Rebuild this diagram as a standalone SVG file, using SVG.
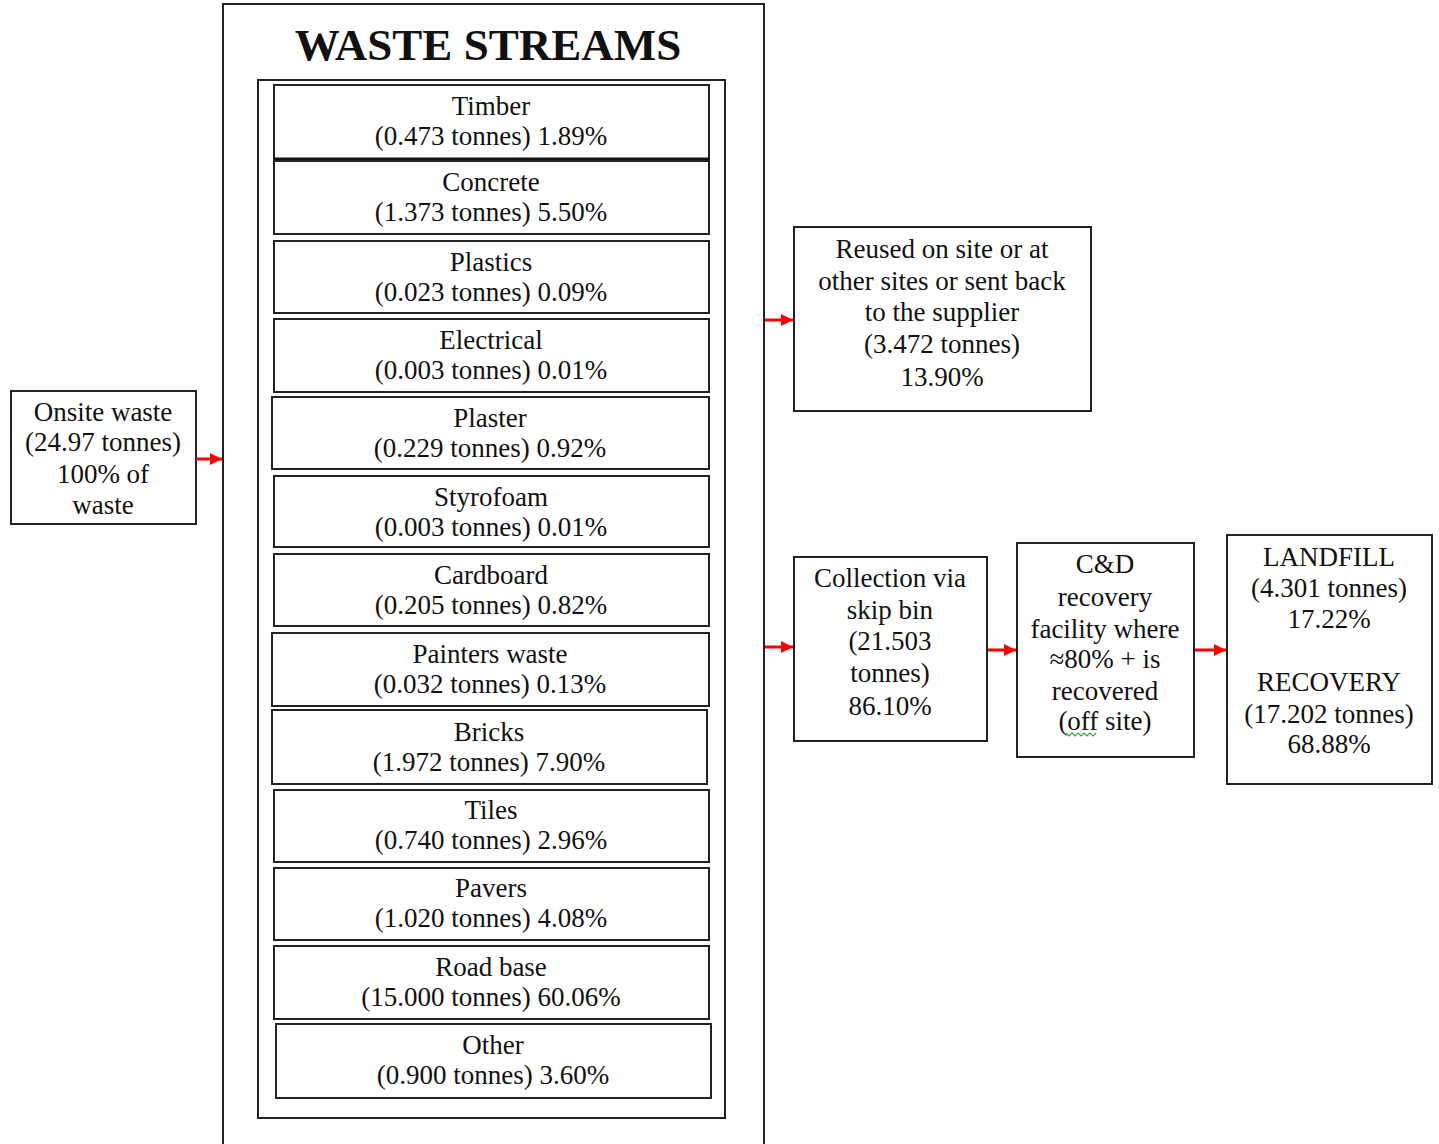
<svg xmlns="http://www.w3.org/2000/svg" width="1439" height="1144" viewBox="0 0 1439 1144">
<defs>
<style>
.box{fill:#fff;stroke:#222;stroke-width:2}
.t{font-family:"Liberation Serif","Times New Roman",serif;font-size:27px;fill:#111;text-anchor:middle}
.title{font-family:"Liberation Serif","Times New Roman",serif;font-size:45px;font-weight:bold;fill:#111;text-anchor:middle}
.arr{stroke:#f00;stroke-width:3;fill:none}
</style>
<marker id="ah" markerUnits="userSpaceOnUse" markerWidth="12" markerHeight="12" refX="12" refY="6" orient="auto">
<path d="M0,0 L12,6 L0,12 z" fill="#f00"/>
</marker>
</defs>
<rect width="1439" height="1144" fill="#fff"/>

<g id="waste-streams">
<rect class="box" x="223" y="4" width="541" height="1150"/>
<text class="title" x="488" y="60">WASTE STREAMS</text>
<rect class="box" x="258" y="80" width="467" height="1038"/>
</g>

<g id="timber"><rect class="box" x="274" y="85" width="435" height="74"/><line x1="274" y1="159" x2="709" y2="159" stroke="#111" stroke-width="3"/><text class="t" x="491" y="115">Timber</text><text class="t" x="491" y="145">(0.473 tonnes) 1.89%</text></g>
<g id="concrete"><rect class="box" x="274" y="161" width="435" height="73"/><text class="t" x="491" y="191">Concrete</text><text class="t" x="491" y="221">(1.373 tonnes) 5.50%</text></g>
<g id="plastics"><rect class="box" x="274" y="241" width="435" height="72"/><text class="t" x="491" y="271">Plastics</text><text class="t" x="491" y="301">(0.023 tonnes) 0.09%</text></g>
<g id="electrical"><rect class="box" x="274" y="319" width="435" height="73"/><text class="t" x="491" y="349">Electrical</text><text class="t" x="491" y="379">(0.003 tonnes) 0.01%</text></g>
<g id="plaster"><rect class="box" x="272" y="397" width="437" height="72"/><text class="t" x="490" y="427">Plaster</text><text class="t" x="490" y="457">(0.229 tonnes) 0.92%</text></g>
<g id="styrofoam"><rect class="box" x="274" y="476" width="435" height="71"/><text class="t" x="491" y="506">Styrofoam</text><text class="t" x="491" y="536">(0.003 tonnes) 0.01%</text></g>
<g id="cardboard"><rect class="box" x="274" y="554" width="435" height="72"/><text class="t" x="491" y="584">Cardboard</text><text class="t" x="491" y="614">(0.205 tonnes) 0.82%</text></g>
<g id="painters"><rect class="box" x="272" y="633" width="437" height="73"/><text class="t" x="490" y="663">Painters waste</text><text class="t" x="490" y="693">(0.032 tonnes) 0.13%</text></g>
<g id="bricks"><rect class="box" x="272" y="710" width="435" height="74"/><text class="t" x="489" y="741">Bricks</text><text class="t" x="489" y="771">(1.972 tonnes) 7.90%</text></g>
<g id="tiles"><rect class="box" x="274" y="790" width="435" height="72"/><text class="t" x="491" y="819">Tiles</text><text class="t" x="491" y="849">(0.740 tonnes) 2.96%</text></g>
<g id="pavers"><rect class="box" x="274" y="868" width="435" height="72"/><text class="t" x="491" y="897">Pavers</text><text class="t" x="491" y="927">(1.020 tonnes) 4.08%</text></g>
<g id="roadbase"><rect class="box" x="274" y="946" width="435" height="73"/><text class="t" x="491" y="976">Road base</text><text class="t" x="491" y="1006">(15.000 tonnes) 60.06%</text></g>
<g id="other"><rect class="box" x="276" y="1024" width="435" height="74"/><text class="t" x="493" y="1054">Other</text><text class="t" x="493" y="1084">(0.900 tonnes) 3.60%</text></g>

<g id="onsite"><rect class="box" x="11" y="391" width="185" height="133"/>
<text class="t" x="103" y="421">Onsite waste</text><text class="t" x="103" y="451">(24.97 tonnes)</text><text class="t" x="103" y="483">100% of</text><text class="t" x="103" y="514">waste</text></g>

<g id="reused"><rect class="box" x="794" y="227" width="297" height="184"/>
<text class="t" x="942" y="258">Reused on site or at</text><text class="t" x="942" y="290">other sites or sent back</text><text class="t" x="942" y="321">to the supplier</text><text class="t" x="942" y="353">(3.472 tonnes)</text><text class="t" x="942" y="386">13.90%</text></g>

<g id="collection"><rect class="box" x="794" y="557" width="193" height="184"/>
<text class="t" x="890" y="587">Collection via</text><text class="t" x="890" y="619">skip bin</text><text class="t" x="890" y="650">(21.503</text><text class="t" x="890" y="682">tonnes)</text><text class="t" x="890" y="715">86.10%</text></g>

<g id="cd-facility"><rect class="box" x="1017" y="543" width="177" height="214"/>
<text class="t" x="1105" y="573">C&amp;D</text><text class="t" x="1105" y="606">recovery</text><text class="t" x="1105" y="638">facility where</text><text class="t" x="1105" y="668">≈80% + is</text><text class="t" x="1105" y="700">recovered</text><text class="t" x="1105" y="730">(off site)</text>
<path d="M1066,733 l3,3 l3,-3 l3,3 l3,-3 l3,3 l3,-3 l3,3 l3,-3 l3,3 l3,-3" fill="none" stroke="#3a3" stroke-width="1.2"/></g>

<g id="landfill"><rect class="box" x="1227" y="535" width="205" height="249"/>
<text class="t" x="1329" y="566">LANDFILL</text><text class="t" x="1329" y="597">(4.301 tonnes)</text><text class="t" x="1329" y="628">17.22%</text><text class="t" x="1329" y="691">RECOVERY</text><text class="t" x="1329" y="723">(17.202 tonnes)</text><text class="t" x="1329" y="753">68.88%</text></g>

<g id="connectors">
<line class="arr" x1="196" y1="459" x2="222" y2="459" marker-end="url(#ah)"/>
<line class="arr" x1="765" y1="320" x2="793" y2="320" marker-end="url(#ah)"/>
<line class="arr" x1="765" y1="647" x2="793" y2="647" marker-end="url(#ah)"/>
<line class="arr" x1="988" y1="650" x2="1016" y2="650" marker-end="url(#ah)"/>
<line class="arr" x1="1195" y1="650" x2="1226" y2="650" marker-end="url(#ah)"/>
</g>
</svg>
